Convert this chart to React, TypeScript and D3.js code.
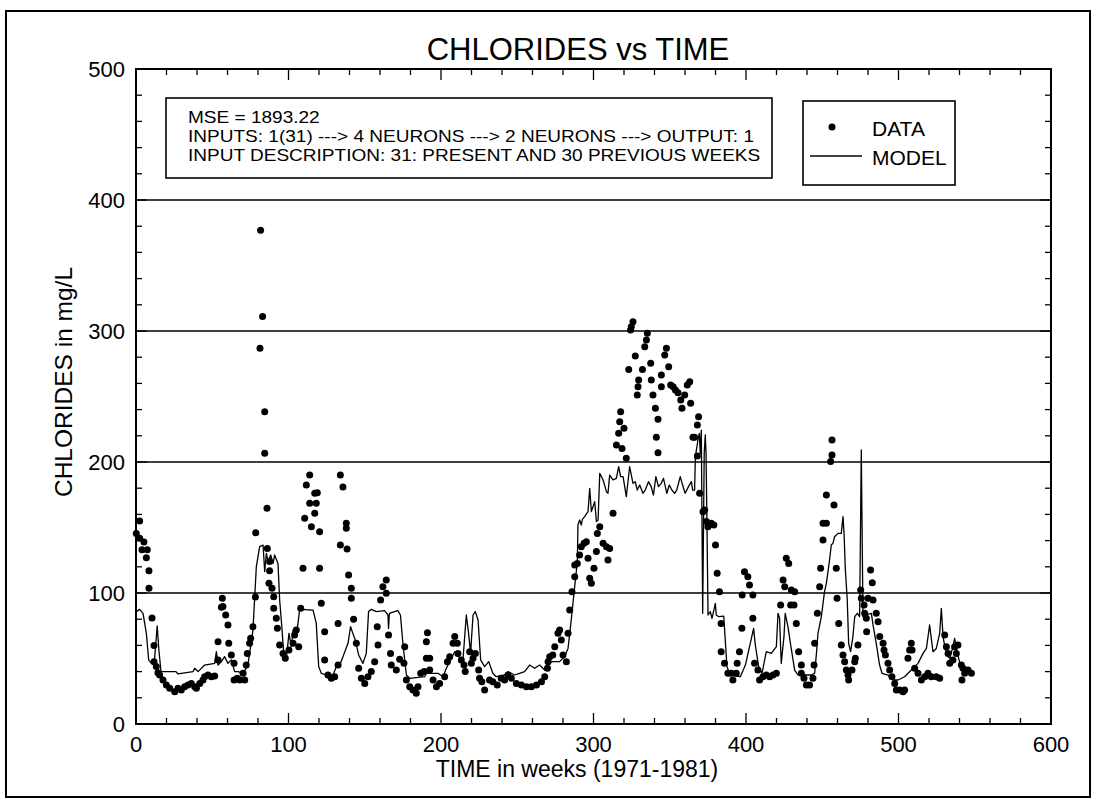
import React from "react";
import * as d3 from "d3";

const TITLE = "CHLORIDES vs TIME";
const X_LABEL = "TIME in weeks (1971-1981)";
const Y_LABEL = "CHLORIDES in mg/L";
const INFO_LINES = [
  "MSE = 1893.22",
  "INPUTS: 1(31) ---> 4 NEURONS ---> 2 NEURONS ---> OUTPUT: 1",
  "INPUT DESCRIPTION: 31: PRESENT AND 30 PREVIOUS WEEKS",
];
const LEGEND = ["DATA", "MODEL"];
const X_TICKS = [0, 100, 200, 300, 400, 500, 600];
const Y_TICKS = [0, 100, 200, 300, 400, 500];
const GRID_VALUES = [100, 200, 300, 400];

// observed weekly chloride values [week, mg/L]
const dataPoints: [number, number][] = [
  [0.2,145.5],[2.4,155],[2.4,141.7],[3.9,133],[5.2,139],[6.8,127],[7.4,133],[8.5,117],[8.5,103.6],[10.5,81],[11.8,60],[11.8,47.6],[13.3,43.8],[14.4,39.2],[15.5,37.4],[17.7,33.6],[19.9,29.8],[22.1,27.2],[25.4,24.7],[27.5,27.2],[29.7,26],[31.9,28.5],[34.1,29.8],[36.3,31],[38.5,28.5],[39.6,27.2],[41.8,31],[43.9,33.6],[45,36.1],[47.2,37.4],[49.4,36.1],[51.6,36.7],[53.8,48.9],[53.8,62.8],[56,89.2],[56.6,96],[57,89.6],[58.8,83.2],[60.3,75.6],[60.8,61.6],[62.5,52.7],[64.3,46.3],[64.3,33.6],[66.4,34.9],[68,33.6],[70.2,38.7],[71.3,33.6],[72.3,45],[73,53.9],[74.5,61.6],[75.2,65.4],[76.7,74.3],[78.3,96.9],[78.5,146],[81.3,286.8],[81.7,377],[83,311],[84.4,238.4],[84.4,206.6],[85.9,164.6],[86.1,134],[87.2,107.4],[87.6,124],[87.6,117],[89.2,103.6],[90.3,97.2],[90.3,88.3],[92,80.7],[92.7,73],[94.2,60.3],[96.4,53.9],[97.9,50.1],[100.3,56.5],[103,61.6],[104,67.9],[105.1,71.8],[106.7,59],[108,88.3],[109.5,118.8],[110.6,157],[111.7,182.4],[113.9,190],[113.9,168.5],[115,150.6],[117.2,176.1],[117.2,160.8],[118.2,168.5],[118.9,176.6],[120.4,146.8],[120.4,118.8],[121.5,92.1],[123.7,70.5],[123.7,48.9],[125.9,37.4],[128.1,34.9],[130.3,36.1],[132.5,45],[132.5,76.8],[134,136.6],[134,190],[135.7,180.9],
  [137.9,153.2],[137.9,149.4],[138.4,133.6],[139.4,113.7],[141.2,103.6],[141.2,96],[142.7,79.9],[144.5,61.6],[146,42.5],[147.8,34.9],[150,31],[152.1,36.1],[154.3,40],[156.5,47.6],[158.2,74.3],[158.7,60.3],[160.4,94.7],[161.9,104.8],[164.1,109.9],[164.1,99.8],[165.6,67.9],[166.9,53.9],[167.4,45],[170.7,41.2],[172.9,49.4],[175.7,46.3],[176.2,59],[177.3,33.6],[179.5,28.5],[181.6,26],[183.8,23.4],[184.9,28.5],[186.7,38.7],[188.9,40],[190.4,62.8],[191.1,69.7],[190.4,50.1],[192.6,50.1],[192.6,41.2],[194.8,33.6],[197,28.5],[199.1,31],[202.4,36.1],[204.2,47.6],[205.7,51.4],[207.9,61.6],[209,66.7],[210.7,61.6],[211.1,53.9],[213.3,48.9],[215.1,45],[215.9,40],[218.8,55.2],[219.9,46.3],[221,50.1],[222.5,53.9],[224.7,41.2],[225.3,34.9],[226.8,32.3],[228.6,26],[231.8,33.6],[234,32.3],[236.9,29.8],[239.5,34.9],[241.7,33.6],[243.9,37.4],[246.1,34.9],[249.4,31],[252.7,29.8],[256,28.5],[259.3,28.5],[262.6,29.8],[265.9,32.3],[268,36.1],[269.8,42.5],[270.2,47.6],
  [271.3,51.4],[273.3,52.7],[274.6,59],[276.7,69.2],[277.8,71.8],[278.9,64.1],[280,52.7],[282.2,47.6],[283.3,69.2],[284.4,87],[285.9,101],[287.7,112.5],[287.7,121.4],[289.4,122.6],[290.9,129],[292,135.4],[293.8,137.9],[295.3,139.2],[296.4,126.5],[297.5,111.2],[298.6,107.4],[300.3,118.8],[301.9,131.6],[302.5,145.5],[304.1,150.6],[306.3,137.9],[308.5,135.4],[309.5,125.2],[310.6,134],[312.8,160.8],[315,213],[316.5,221.9],[317.2,230.8],[317.8,238.4],[318.7,210.4],[320,225.7],[321.5,202.8],[323.1,270.7],[324.3,300.8],[324.8,303.3],[325.9,307.1],[327.4,280.9],[328.7,251.1],[329.2,257.5],[329.6,262.6],[332.1,270.7],[333.6,288],[334.7,293.1],[335.3,298.2],[337.5,275.3],[337.9,262.6],[339,251.1],[340.6,241],[341.2,218.8],[342.3,232.6],[342.3,207.1],[344.5,257.5],[344.5,266.4],[346.7,281.7],[347.8,286.8],[349.3,272.8],[350.6,258.8],[352.2,257.5],[353.7,255],[355.4,252.9],[357.2,247.3],[358,241],[359.8,251.1],[361.5,258.8],[363.1,261.3],[363.7,244.8],[365.2,218.8],[366.3,218.8],[368.1,228.2],[368.9,234.6],[368.1,204.6],[369.6,176.1],[371.8,162.1],[372.9,163.4],[374,154.5],[375,150.6],[377.2,153.2],[378.9,151.9],[380,136.6],[381.1,115],[382.6,101],[383.7,76.8],[383.7,55.2],[385.9,46.3],[388.1,38.7],[390.3,38.7],[391.4,33.6],[393.6,38.7],[394.2,46.3],[395.7,55.2],[397.3,73],[397.5,98.5],[399,116.3],[401.2,112.5],[402.3,106.1],[404.5,98.5],[404.5,80.7],[405.6,46.3],[407.8,41.2],[408.9,33.6],
  [411.1,36.1],[413.3,37.4],[415.5,36.1],[417.7,37.4],[419.9,38.7],[422.7,90.8],[424.3,109.9],[425.4,104.8],[426.4,126.5],[428,122.6],[429.3,90.8],[429.7,102.3],[431.5,90.8],[431.9,101],[433,76.8],[434.5,55.2],[436.3,45],[436.3,38.7],[438,34.9],[439.6,29.8],[441.7,29.8],[443.9,34.9],[444.6,45],[445,61.6],[446.8,84.5],[448.3,104.8],[448.9,118.8],[450.5,140.5],[450.5,153.2],[452.7,153.2],[452.7,174.8],[455.5,200.3],[456.4,205.3],[456.4,216.8],[457.7,167.2],[459.2,118.8],[459.7,96],[460.8,76.8],[462.5,60.3],[463.6,52.7],[464.7,47.6],[465.8,41.2],[466.9,37.4],[467.3,33.6],[469.5,41.2],[471.3,47.6],[471.7,50.1],[473.4,60.3],[475.2,102.3],[475.6,96],[477.4,90.8],[477.8,84.5],[478.9,80.7],[479.1,70.5],[480,96],[481.7,117.6],[482.8,107.9],[483.3,94.7],[485.4,84.5],[486.6,78.1],[487.7,66.7],[489.9,61.6],[490.5,56.5],[491.4,52.7],[493.1,46.3],[494.2,41.2],[495.7,36.1],[497.5,31],[498.6,26],[500.8,26],[503,24.7],[504,26],[506.2,50.1],[507.3,56.5],[508.4,61.6],[508.9,56.5],[510.6,42.5],[512.8,38.7],[515,33.6],[517.2,36.1],[519.3,38.7],[521.5,36.1],[524.8,36.1],[527,34.9],[530.3,67.9],[531.4,59],[532.5,53.9],[533.6,46.3],[535.7,48.9],[536.8,59],[537.9,53.9],[539,60.3],[541.2,45],[541.6,33.6],[542.3,42.5],[543.4,38.7],[545.6,41.2],[547.8,38.7],
];

// neural network model output [week, mg/L]
const modelPoints: [number, number][] = [
  [0.2,85.8],[2.4,87.5],[4.6,84.5],[6.8,69.2],[8.3,48.9],[10.1,46.3],[12.2,50.1],[13.9,74.8],[15,56.5],[16.4,40],[26.2,40],[27.5,38.2],[37.4,40],[38.5,42.5],[40.7,40],[45,45],[51.6,46.3],[52.7,55.2],[53.8,45],[56,47.6],[58.1,51.4],[60.3,46.3],[62.5,48.9],[64.7,40],[66.9,40],[70.2,38.7],[73.4,45],[76.7,71.8],[78.9,120.1],[81.1,135.4],[83.3,136.6],[84.4,116.3],[85.5,130.3],[86.6,124],[88.3,129],[89.9,122.6],[90.9,129],[93.1,122.6],[94.2,94.7],[95.7,73],[97,51.4],[98.6,50.1],[100.3,69.2],[101.9,59],[103,71.8],[105.1,66.7],[106.2,76.8],[107.3,87],[108.4,87.5],[116.1,87],[118.2,76.8],[119.8,43.8],[121.5,38.7],[124.8,37.4],[129.2,37.4],[131.4,43.8],[133.6,45],
  [135.7,51.4],[139,61.6],[140.7,74.3],[142.2,69.2],[143.8,64.1],[146,52.7],[148.8,46.3],[151,53.9],[152.5,85.8],[154.3,87.5],[157.6,85.8],[163,86.5],[165.2,83.2],[165.6,73],[166.2,84.5],[169.5,85.8],[171.7,86.5],[173.4,83.2],[175,61.6],[177.3,37.4],[179.5,34.9],[189.3,36.1],[190.4,38.7],[198,38.7],[201.3,36.1],[203.5,42.5],[206.8,50.1],[209,55.2],[211.1,51.9],[214.4,48.9],[216.6,83.2],[218.1,69.2],[219.4,53.9],[221,83.2],[222.5,85.8],[224.3,79.4],[226,48.9],[228.6,43.8],[231.3,47.6],[234,38.7],[236.2,36.1],[241.7,37.4],[243.9,40],[248.3,37.4],[251.5,38.7],[254.8,40],[258.1,45],[261.4,42.5],[264.7,45],[268,41.2],[272.4,47.6],
  [274.5,47.6],[277.8,47.6],[281,51.4],[283.3,57.7],[285.4,79.4],[287.2,99.8],[289.4,124],[289.8,151.9],[290.9,155.7],[292,151.9],[292.7,156.2],[294.2,158.3],[296.4,162.1],[297.5,179.9],[298.6,162.1],[300.8,169.7],[301.9,154.5],[303,155.7],[304.1,191.3],[306.3,186.3],[308.5,177.4],[309.5,176.1],[310.6,190],[312.8,186.3],[315,187.5],[316.5,196.4],[317.8,188.8],[319.4,188.8],[321.5,173.5],[323.7,196.4],[325.9,183.7],[327.4,185],[328.7,178.6],[330.3,182.4],[332.4,176.1],[333.9,178.6],[336.1,185],[337.8,181.2],[339.3,174.8],[340.9,188.8],[342.6,181.2],[344.4,183.7],[345.9,187.5],[348.1,176.1],[349.7,182.4],[351.4,178.6],[353.2,176.1],[354.6,178.6],[356.9,188.8],[358.4,182.4],[360.1,176.1],[362.3,181.2],[364.2,185],[365,178.6],[366.3,178.6],[366.8,204.1],[368.5,216.8],[369.4,221.9],[370,206.6],[370.7,224.4],[371.6,84.5],[372.6,206.6],[373.3,220.6],[373.8,206.6],[374.4,151.9],[375.1,83.2],[376.6,85.8],[377.7,80.7],[379.9,92.1],[380.5,83.2],[382.1,81.9],[385.4,82.4],[386.4,64.1],[387.5,43.8],[389.7,37.4],[396.3,36.1],[399.6,45],[402.8,61.6],[405,73],[406.1,60.3],[408.3,43.8],[410.5,38.7],
  [411.8,46.3],[413.3,55.2],[416.6,53.9],[419.9,59],[421,84.5],[422,80.7],[423.1,46.3],[424.9,66.7],[425.7,84.5],[427.5,74.3],[429.3,60.3],[431.9,41.2],[434.1,37.4],[442.8,37.4],[445,38.7],[446.1,52.7],[447.2,69.2],[449.4,81.9],[451.5,101],[452.7,107.4],[454.8,125.2],[455.9,136.6],[457,137.9],[458.1,143],[460.3,145.5],[462.5,145.5],[463.6,158.3],[464.3,145.5],[465.1,118.8],[466.4,94.7],[467.3,61.6],[468.6,55.2],[470.1,66.7],[471.3,81.9],[473,84.5],[474.5,81.9],[475.6,209.2],[476.7,81.9],[477.8,83.2],[482.2,84.5],[483.3,75.6],[485.4,61.6],[487.6,45],[489.2,38.7],[493.1,37.4],[496.4,33.6],[499.7,33.6],[504,36.1],[508.4,41.2],[512.8,46.3],[516.1,53.9],[518.3,57.7],[520.4,75.6],[522.6,55.2],[524.8,57.7],[527,69.2],[528.1,88.3],[529.2,66.7],[531.4,52.7],[533.6,50.1],[535.7,59],[536.8,65.4],[538.6,53.9],[541.2,42.5],[544.5,38.7],[547.8,41.2],
];

const FONT = "'Liberation Sans', Arial, Helvetica, sans-serif";

export default function App() {
  const W = 1097, H = 806;
  const x = d3.scaleLinear().domain([0, 600]).range([136, 1051]);
  const y = d3.scaleLinear().domain([0, 500]).range([724, 69]);
  const [x0, x1] = x.range();
  const [yb, yt] = y.range();
  const xMinor = d3.range(0, 601, 20);
  const yMinor = d3.range(0, 501, 20);
  const line = d3.line<[number, number]>().x(d => x(d[0])).y(d => y(d[1]));

  return (
    <svg width={W} height={H} style={{ position: "absolute", left: 0, top: 0, background: "#fff" }} fontFamily={FONT}>
      <rect x={0} y={0} width={W} height={H} fill="#fff" />
      {/* outer frame */}
      <rect x={6} y={11} width={1084} height={786} fill="none" stroke="#000" strokeWidth={2} />
      {/* title */}
      <text x={578} y={60} fontSize={31} textAnchor="middle" fill="#000">{TITLE}</text>
      {/* grid lines */}
      {GRID_VALUES.map(v => (
        <line key={"g" + v} x1={x0} x2={x1} y1={y(v)} y2={y(v)} stroke="#000" strokeWidth={1.6} />
      ))}
      {/* ticks */}
      {xMinor.map(v => {
        const len = v % 100 === 0 ? 11 : 6;
        return (
          <g key={"xt" + v}>
            <line x1={x(v)} x2={x(v)} y1={yb} y2={yb - len} stroke="#000" strokeWidth={1.3} />
            <line x1={x(v)} x2={x(v)} y1={yt} y2={yt + len} stroke="#000" strokeWidth={1.3} />
          </g>
        );
      })}
      {yMinor.map(v => {
        const len = v % 100 === 0 ? 11 : 6;
        return (
          <g key={"yt" + v}>
            <line x1={x0} x2={x0 + len} y1={y(v)} y2={y(v)} stroke="#000" strokeWidth={1.3} />
            <line x1={x1} x2={x1 - len} y1={y(v)} y2={y(v)} stroke="#000" strokeWidth={1.3} />
          </g>
        );
      })}
      {/* plot frame */}
      <rect x={x0} y={yt} width={x1 - x0} height={yb - yt} fill="none" stroke="#000" strokeWidth={2} />
      {/* tick labels */}
      {Y_TICKS.map(v => (
        <text key={"yl" + v} x={125} y={y(v) + 8} fontSize={22} textAnchor="end" fill="#000">{v}</text>
      ))}
      {X_TICKS.map(v => (
        <text key={"xl" + v} x={x(v)} y={752} fontSize={22} textAnchor="middle" fill="#000">{v}</text>
      ))}
      {/* axis titles */}
      <text x={577} y={777} fontSize={23} textAnchor="middle" fill="#000">{X_LABEL}</text>
      <text transform={`translate(72, 382) rotate(-90)`} fontSize={24.5} textAnchor="middle" fill="#000">{Y_LABEL}</text>
      {/* model line */}
      <path d={line(modelPoints) || ""} fill="none" stroke="#000" strokeWidth={1.3} strokeLinejoin="round" />
      {/* data points */}
      {dataPoints.map((d, i) => (
        <circle key={"p" + i} cx={x(d[0])} cy={y(d[1])} r={3.5} fill="#000" />
      ))}
      {/* info box */}
      <rect x={166} y={98} width={606} height={80} fill="#fff" stroke="#000" strokeWidth={1.6} />
      <g transform="translate(188,0) scale(1.12,1)">
        {INFO_LINES.map((t, i) => (
          <text key={"info" + i} x={0} y={123 + i * 19} fontSize={17} fill="#000">{t}</text>
        ))}
      </g>
      {/* legend */}
      <rect x={803} y={101} width={152} height={84} fill="#fff" stroke="#000" strokeWidth={1.6} />
      <circle cx={832} cy={127} r={3.5} fill="#000" />
      <text x={872} y={136} fontSize={21} fill="#000">{LEGEND[0]}</text>
      <line x1={810} x2={862} y1={156} y2={156} stroke="#000" strokeWidth={1.5} />
      <text x={872} y={165} fontSize={21} fill="#000">{LEGEND[1]}</text>
    </svg>
  );
}
